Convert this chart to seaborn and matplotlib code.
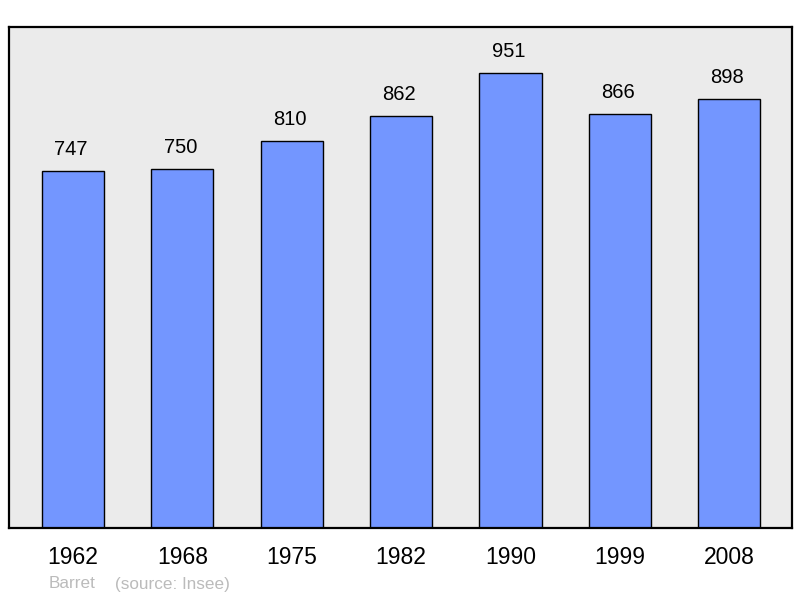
import pandas as pd
import matplotlib
matplotlib.use('Agg')
import matplotlib.pyplot as plt
import seaborn as sns

# Population by census year
years = ['1962', '1968', '1975', '1982', '1990', '1999', '2008']
population = [747, 750, 810, 862, 951, 866, 898]

df = pd.DataFrame({'year': years, 'pop': population})

sns.set_style('white')
plt.rcParams['font.family'] = ['Liberation Sans', 'DejaVu Sans']

fig = plt.figure(figsize=(8, 5.98), dpi=100)
ax = fig.add_axes([0.01125, 0.1171, 0.97875, 0.8377])
ax.set_facecolor('#ebebeb')

sns.barplot(x='year', y='pop', data=df, color='#7396ff', saturation=1,
            width=0.57, edgecolor='black', linewidth=1.0, ax=ax)

# value above each bar
for i, v in enumerate(population):
    ax.annotate(str(v), (i, v), xytext=(-1.5, 15.5), textcoords='offset points',
                ha='center', va='center', fontsize=14.5, color='black')

ax.set_xlim(-0.585, 6.575)
ax.set_ylim(0, 1048)
ax.set_xlabel('')
ax.set_ylabel('')
ax.set_yticks([])
ax.tick_params(axis='x', length=0, pad=13, labelsize=16.5, labelcolor='black')
for s in ax.spines.values():
    s.set_visible(True)
    s.set_linewidth(1.6)
    s.set_color('black')

fig.text(49 / 800, 1 - 584 / 598, 'Barret', color='#bbbbbb', fontsize=12.3, va='center')
fig.text(115 / 800, 1 - 584 / 598, '(source: Insee)', color='#bbbbbb', fontsize=12.3, va='center')

fig.savefig('out.png', dpi=100, facecolor='white')
